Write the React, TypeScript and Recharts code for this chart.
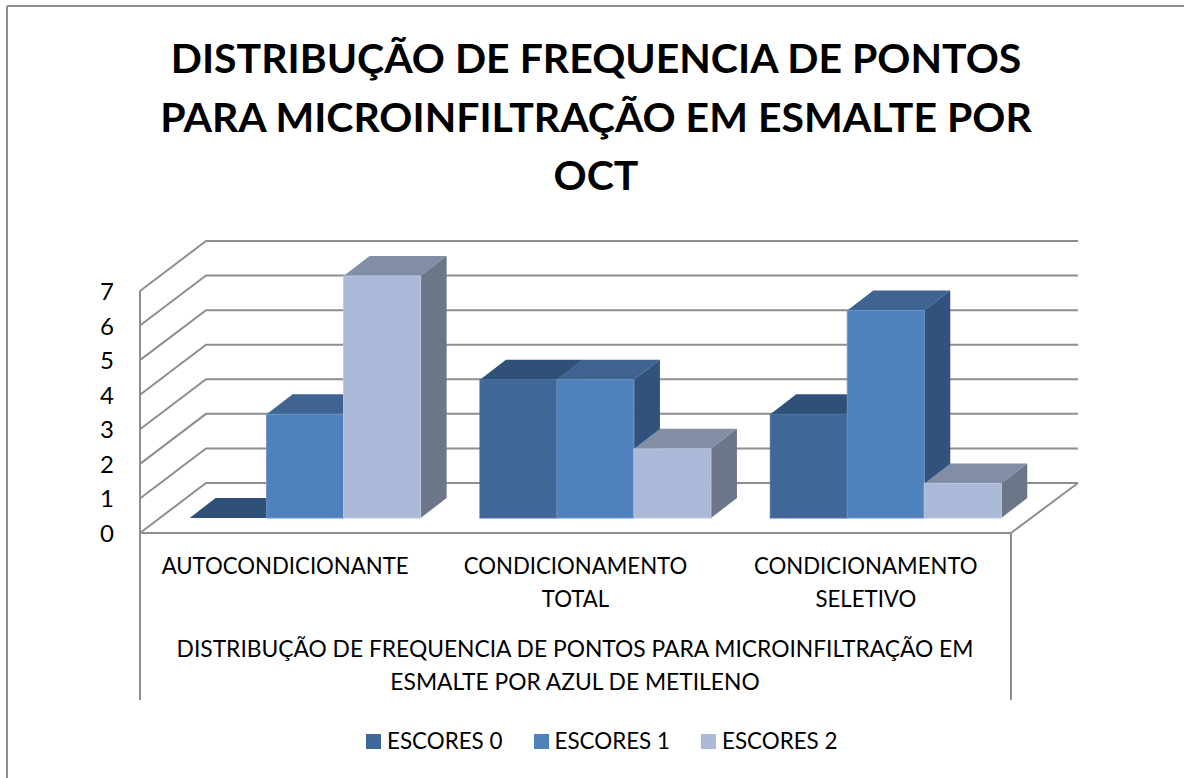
import React from 'react';
import { BarChart, Bar, XAxis, YAxis, CartesianGrid, Legend, ReferenceLine } from 'recharts';

const categories = ['AUTOCONDICIONANTE', 'CONDICIONAMENTO TOTAL', 'CONDICIONAMENTO SELETIVO'];
const escores0 = [0, 4, 3];
const escores1 = [3, 4, 6];
const escores2 = [7, 2, 1];
const yTicks = [0, 1, 2, 3, 4, 5, 6, 7];
const titleLines = [
  'DISTRIBUÇÃO DE FREQUENCIA DE PONTOS',
  'PARA MICROINFILTRAÇÃO EM ESMALTE POR',
  'OCT',
];
const axisTitleLines = [
  'DISTRIBUÇÃO DE FREQUENCIA DE PONTOS PARA MICROINFILTRAÇÃO EM',
  'ESMALTE POR AZUL DE METILENO',
];

const chartData = categories.map((name, i) => ({
  name,
  'ESCORES 0': escores0[i],
  'ESCORES 1': escores1[i],
  'ESCORES 2': escores2[i],
}));

const FONT = 'Lato';
const LINE = '#8e8e8e';

// floor offset between the bars and the front/back walls
const FRONT_X = -20;
const FRONT_Y = 15;
const BACK_X = 46;
const BACK_Y = -35;
const BAR_DX = 26;
const BAR_DY = -20;

const faces: Record<string, { top: string; side: string; edge: string }> = {
  '#3f6797': { top: '#2f5178', side: '#2f5178', edge: '#4a72a2' },
  '#4f81bd': { top: '#3f6491', side: '#30527c', edge: '#6a94c8' },
  '#aab9d7': { top: '#828ea5', side: '#6b7688', edge: '#bcc8e0' },
};

function Bar3D(props: any) {
  const { x, y, width, height, fill } = props;
  const f = faces[fill];
  const r = x + width;
  const b = y + height;
  return (
    <g>
      <polygon
        points={`${x},${y} ${x + BAR_DX},${y + BAR_DY} ${r + BAR_DX},${y + BAR_DY} ${r},${y}`}
        fill={f.top}
      />
      <polygon
        points={`${r},${y} ${r + BAR_DX},${y + BAR_DY} ${r + BAR_DX},${b + BAR_DY} ${r},${b}`}
        fill={f.side}
      />
      {height > 0 && (
        <rect x={x} y={y} width={width} height={height} fill={fill} stroke={f.edge} strokeWidth={1} />
      )}
    </g>
  );
}

function WallLine(props: any) {
  const { x1, x2, y1 } = props;
  return (
    <polyline
      points={`${x1 + FRONT_X},${y1 + FRONT_Y} ${x1 + BACK_X},${y1 + BACK_Y} ${x2 + BACK_X + 1},${y1 + BACK_Y}`}
      fill="none"
      stroke={LINE}
      strokeWidth={2}
    />
  );
}

function FloorFront(props: any) {
  const { x1, x2, y1 } = props;
  return (
    <g>
      <polyline
        points={`${x1 + FRONT_X},${y1 + FRONT_Y} ${x2 + FRONT_X},${y1 + FRONT_Y} ${x2 + BACK_X + 1},${y1 + BACK_Y}`}
        fill="none"
        stroke={LINE}
        strokeWidth={2}
      />
      <line x1={x1 + FRONT_X} y1={291} x2={x1 + FRONT_X} y2={700} stroke={LINE} strokeWidth={2} />
      <line x1={x2 + FRONT_X} y1={y1 + FRONT_Y} x2={x2 + FRONT_X} y2={700} stroke={LINE} strokeWidth={2} />
    </g>
  );
}

function YTick(props: any) {
  const { y, payload } = props;
  return (
    <text x={107} y={y + 15} dy={9} textAnchor="middle" fontFamily={FONT} fontSize={24} fill="#000">
      {payload.value}
    </text>
  );
}

function XTick(props: any) {
  const { x, payload } = props;
  const words = String(payload.value).split(' ');
  return (
    <text textAnchor="middle" fontFamily={FONT} fontSize={22.2} fill="#000">
      {words.map((w, i) => (
        <tspan key={w} x={x + FRONT_X} y={574 + i * 33}>
          {w}
        </tspan>
      ))}
    </text>
  );
}

function LegendRow(props: any) {
  return (
    <div style={{ display: 'flex', fontFamily: FONT, fontSize: 22.4, lineHeight: '28px', color: '#000' }}>
      {props.payload.map((item: any) => (
        <div key={item.value} style={{ width: 167.5, display: 'flex', alignItems: 'center' }}>
          <span style={{ width: 15, height: 15, background: item.color, marginRight: 6 }} />
          {item.value}
        </div>
      ))}
    </div>
  );
}

export default function App() {
  return (
    <div style={{ position: 'absolute', left: 0, top: 0, background: '#fff' }}>
      <BarChart
        width={1184}
        height={778}
        data={chartData}
        margin={{ top: 276, right: 153, bottom: 172, left: 100 }}
        barCategoryGap="10.2%"
        barGap={0}
      >
        <line x1={7} y1={6} x2={1184} y2={6} stroke={LINE} strokeWidth={2} />
        <line x1={7} y1={6} x2={7} y2={778} stroke={LINE} strokeWidth={2} />
        {titleLines.map((t, i) => (
          <text key={t} x={596} y={73 + i * 58.5} textAnchor="middle" fontFamily={FONT} fontWeight={700} fontSize={41} fill="#000">
            {t}
          </text>
        ))}
        {axisTitleLines.map((t, i) => (
          <text key={t} x={575} y={657 + i * 33} textAnchor="middle" fontFamily={FONT} fontSize={22.8} fill="#000">
            {t}
          </text>
        ))}
        <CartesianGrid vertical={false} horizontal={WallLine} />
        <XAxis dataKey="name" axisLine={false} tickLine={false} height={60} interval={0} tick={XTick} />
        <YAxis width={60} domain={[0, 7]} ticks={yTicks} axisLine={false} tickLine={false} tick={YTick} />
        <ReferenceLine y={0} shape={FloorFront} />
        <Bar dataKey="ESCORES 0" fill="#3f6797" shape={Bar3D} isAnimationActive={false} />
        <Bar dataKey="ESCORES 1" fill="#4f81bd" shape={Bar3D} isAnimationActive={false} />
        <Bar dataKey="ESCORES 2" fill="#aab9d7" shape={Bar3D} isAnimationActive={false} />
        <Legend
          verticalAlign="bottom"
          content={LegendRow}
          wrapperStyle={{ top: 727, left: 366, width: 520 }}
        />
      </BarChart>
    </div>
  );
}
